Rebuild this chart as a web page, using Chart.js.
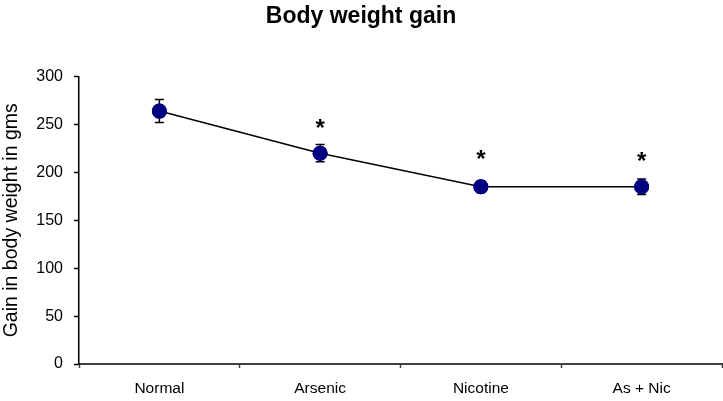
<!DOCTYPE html>
<html>
<head>
<meta charset="utf-8">
<script src="https://cdn.jsdelivr.net/npm/chart.js@4.4.1/dist/chart.umd.min.js"></script>
<style>
  html, body { margin: 0; padding: 0; background: #fff; }
  #wrap { width: 723px; height: 401px; position: relative; }
</style>
</head>
<body>
<div id="wrap"><canvas id="weightChart"></canvas></div>
<script>
// data
const groups = ['Normal', 'Arsenic', 'Nicotine', 'As + Nic'];
const gain = [264, 220, 185, 185];
const gainErr = [12, 9, 6, 8];
const starLevel = [null, 249, 217, 215];   // where the significance stars sit
const yTicks = [0, 50, 100, 150, 200, 250, 300];

const ctx = document.getElementById('weightChart');
const fontFam = '"Liberation Sans", Arial, sans-serif';

// error bars + stars, drawn through the scales
const extrasPlugin = {
  id: 'extras',
  afterDatasetsDraw(chart) {
    const c = chart.ctx;
    const xs = chart.scales.x, ys = chart.scales.y;
    c.save();
    c.strokeStyle = '#000';
    c.lineWidth = 1.5;
    for (let i = 0; i < gain.length; i++) {
      const x = xs.getPixelForValue(i);
      const top = ys.getPixelForValue(gain[i] + gainErr[i]);
      const bot = ys.getPixelForValue(gain[i] - gainErr[i]);
      c.beginPath();
      c.moveTo(x, top); c.lineTo(x, bot);
      c.moveTo(x - 4.5, top); c.lineTo(x + 4.5, top);
      c.moveTo(x - 4.5, bot); c.lineTo(x + 4.5, bot);
      c.stroke();
    }
    // redraw points on top of the bars
    const meta = chart.getDatasetMeta(0);
    meta.data.forEach(p => p.draw(c, chart.chartArea));
    c.fillStyle = '#000';
    c.font = 'bold 24px ' + fontFam;
    c.textAlign = 'center';
    c.textBaseline = 'middle';
    for (let i = 0; i < starLevel.length; i++) {
      if (starLevel[i] == null) continue;
      c.fillText('*', xs.getPixelForValue(i), ys.getPixelForValue(starLevel[i]) + 4);
    }
    c.restore();
  }
};

new Chart(ctx, {
  type: 'line',
  data: {
    labels: groups,
    datasets: [{
      data: gain,
      borderColor: '#000',
      borderWidth: 1.5,
      pointRadius: 7.5,
      pointHoverRadius: 7.5,
      pointBackgroundColor: '#000080',
      pointBorderColor: '#000080',
      pointBorderWidth: 0,
      tension: 0,
      clip: false
    }]
  },
  options: {
    responsive: true,
    maintainAspectRatio: false,
    animation: false,
    events: [],
    layout: { autoPadding: false, padding: { left: 0, right: 1, top: 0, bottom: 0 } },
    plugins: {
      legend: { display: false },
      tooltip: { enabled: false },
      title: {
        display: true,
        text: 'Body weight gain',
        color: '#000',
        font: { family: fontFam, size: 23, weight: 'bold' },
        padding: { top: 3, bottom: 46 }
      }
    },
    scales: {
      x: {
        offset: true,
        border: { color: '#404040', width: 2 },
        grid: { offset: true, drawOnChartArea: false, tickLength: 4, color: '#404040', tickWidth: 1.5 },
        ticks: { color: '#000', padding: 11, font: { family: fontFam, size: 15.5 } },
        afterFit(s) { s.height = 37; }
      },
      y: {
        min: 0, max: 300,
        afterBuildTicks(s) { s.ticks = yTicks.map(v => ({ value: v })); },
        border: { color: '#000', width: 1.5 },
        grid: { drawOnChartArea: false, tickLength: 5, color: '#000', tickWidth: 1.5 },
        ticks: { color: '#000', padding: 11, font: { family: fontFam, size: 16 } },
        title: {
          display: true,
          text: 'Gain in body weight in gms',
          color: '#000',
          padding: { top: 0, bottom: 4 },
          font: { family: fontFam, size: 19.5 }
        },
        afterFit(s) { s.width = 79; }
      }
    }
  },
  plugins: [extrasPlugin]
});
</script>
</body>
</html>
